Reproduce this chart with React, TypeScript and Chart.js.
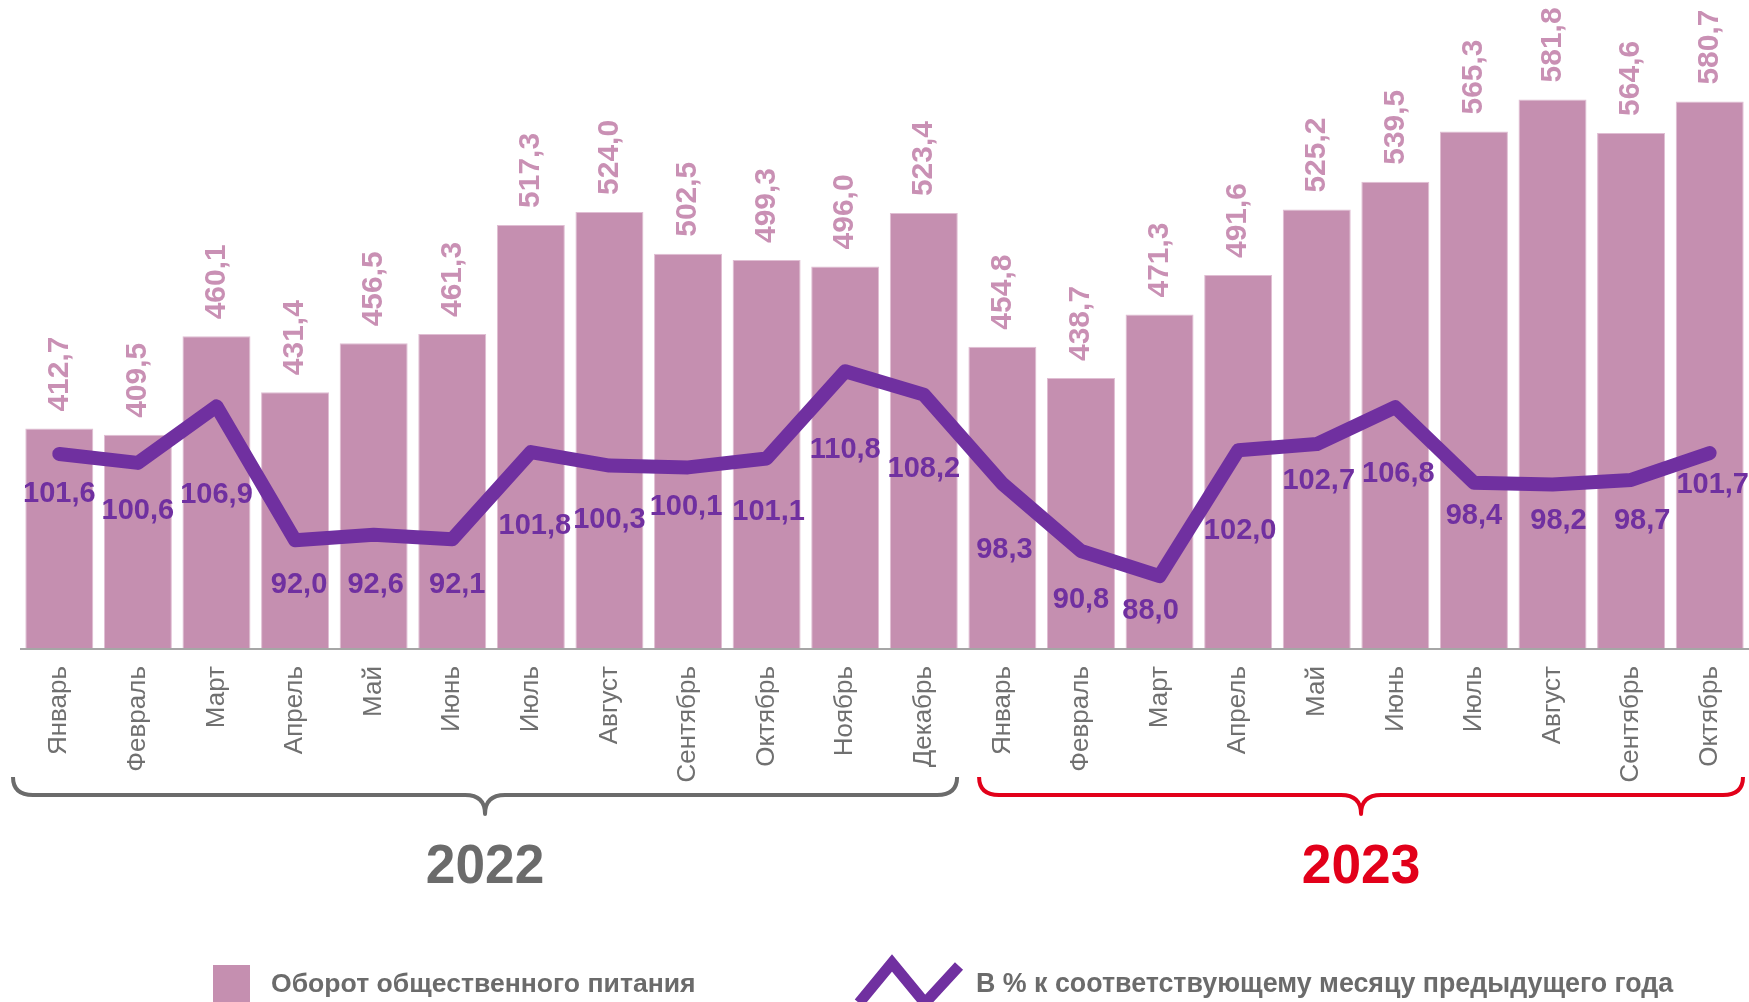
import React, { useEffect, useRef } from "react";
import { Chart, registerables } from "chart.js";

Chart.register(...registerables);

const months = [
  "Январь", "Февраль", "Март", "Апрель", "Май", "Июнь", "Июль", "Август", "Сентябрь", "Октябрь", "Ноябрь", "Декабрь",
  "Январь", "Февраль", "Март", "Апрель", "Май", "Июнь", "Июль", "Август", "Сентябрь", "Октябрь",
];
const turnover = [
  412.7, 409.5, 460.1, 431.4, 456.5, 461.3, 517.3, 524.0, 502.5, 499.3, 496.0, 523.4,
  454.8, 438.7, 471.3, 491.6, 525.2, 539.5, 565.3, 581.8, 564.6, 580.7,
];
const percentPrevYear = [
  101.6, 100.6, 106.9, 92.0, 92.6, 92.1, 101.8, 100.3, 100.1, 101.1, 110.8, 108.2,
  98.3, 90.8, 88.0, 102.0, 102.7, 106.8, 98.4, 98.2, 98.7, 101.7,
];
const years = ["2022", "2023"];
const yearMonthCounts = [12, 10];
const legendLabels = ["Оборот общественного питания", "В % к соответствующему месяцу предыдущего года"];
// vertical drop (px) of each percentage label below its point
const lineLabelDrop = [40, 48, 89, 45, 50, 46, 74, 54, 40, 54, 79, 74, 66, 49, 35, 81, 37, 67, 33, 37, 41, 32];
// small horizontal nudge (px) of each percentage label
const lineLabelShift = [0, 0, 0, 4, 2, 5, 4, 0, -2, 2, 0, 0, 2, 0, -9, 2, 2, 3, 0, 6, 11, 3];

const FONT = '"Liberation Sans", Arial, Helvetica, sans-serif';
const BAR_COLOR = "#c58fb0";
const BAR_LABEL_COLOR = "#c990b4";
const LINE_COLOR = "#7030a0";
const GRAY = "#6b6b6b";
const RED = "#e2001a";
const YEAR_COLORS = [GRAY, RED];
const BRACE_INSETS = [[-7, -6], [16, -6]];

const fmt = (v: number) => v.toFixed(1).replace(".", ",");

const overlay = {
  id: "overlay",
  afterDatasetsDraw(chart: any) {
    const ctx: CanvasRenderingContext2D = chart.ctx;
    const { left, right, bottom } = chart.chartArea;
    const xs = chart.scales.x;
    const catW = (right - left) / months.length;

    ctx.save();
    // axis line
    ctx.strokeStyle = "#a6a6a6";
    ctx.lineWidth = 2;
    ctx.beginPath();
    ctx.moveTo(left, bottom + 1);
    ctx.lineTo(right, bottom + 1);
    ctx.stroke();

    // bar value labels
    const barMeta = chart.getDatasetMeta(0);
    ctx.font = `bold 30px ${FONT}`;
    ctx.fillStyle = BAR_LABEL_COLOR;
    barMeta.data.forEach((el: any, i: number) => {
      ctx.save();
      ctx.translate(el.x, el.y - 17);
      ctx.rotate(-Math.PI / 2);
      ctx.textAlign = "left";
      ctx.textBaseline = "middle";
      ctx.fillText(fmt(turnover[i]), 0, 0);
      ctx.restore();
    });

    // line value labels
    const lineMeta = chart.getDatasetMeta(1);
    ctx.font = `bold 29px ${FONT}`;
    ctx.fillStyle = LINE_COLOR;
    ctx.textAlign = "center";
    ctx.textBaseline = "middle";
    lineMeta.data.forEach((el: any, i: number) => {
      ctx.fillText(fmt(percentPrevYear[i]), el.x + lineLabelShift[i], el.y + lineLabelDrop[i]);
    });

    // month labels
    ctx.font = `26px ${FONT}`;
    ctx.fillStyle = "#707070";
    months.forEach((m, i) => {
      const cx = xs.getPixelForValue(i);
      ctx.save();
      ctx.translate(cx, bottom + 18);
      ctx.rotate(-Math.PI / 2);
      ctx.textAlign = "right";
      ctx.textBaseline = "middle";
      ctx.fillText(m, 0, 0);
      ctx.restore();
    });

    // braces and years
    let start = 0;
    years.forEach((yr, g) => {
      const count = yearMonthCounts[g];
      const x0 = left + start * catW + BRACE_INSETS[g][0];
      const x1 = left + (start + count) * catW + BRACE_INSETS[g][1];
      const cx = (x0 + x1) / 2;
      const yTop = bottom + 129;
      const yLine = bottom + 147;
      const yTip = bottom + 166;
      const r = 20;
      ctx.strokeStyle = YEAR_COLORS[g];
      ctx.lineWidth = 4;
      ctx.lineJoin = "round";
      ctx.lineCap = "butt";
      ctx.beginPath();
      ctx.moveTo(x0, yTop);
      ctx.quadraticCurveTo(x0, yLine, x0 + r, yLine);
      ctx.lineTo(cx - r, yLine);
      ctx.quadraticCurveTo(cx, yLine, cx, yTip);
      ctx.quadraticCurveTo(cx, yLine, cx + r, yLine);
      ctx.lineTo(x1 - r, yLine);
      ctx.quadraticCurveTo(x1, yLine, x1, yTop);
      ctx.stroke();

      ctx.save();
      ctx.translate(cx, bottom + 220);
      ctx.scale(0.95, 1);
      ctx.font = `bold 56px ${FONT}`;
      ctx.fillStyle = YEAR_COLORS[g];
      ctx.textAlign = "center";
      ctx.textBaseline = "middle";
      ctx.fillText(yr, 0, 0);
      ctx.restore();
      start += count;
    });

    // legend
    const ly = bottom + 337;
    ctx.fillStyle = BAR_COLOR;
    ctx.fillRect(213, ly - 20, 37, 40);
    ctx.font = `bold 26.6px ${FONT}`;
    ctx.fillStyle = GRAY;
    ctx.textAlign = "left";
    ctx.textBaseline = "middle";
    ctx.fillText(legendLabels[0], 271, ly);

    ctx.strokeStyle = LINE_COLOR;
    ctx.lineWidth = 11;
    ctx.lineJoin = "miter";
    ctx.beginPath();
    ctx.moveTo(859, ly + 18);
    ctx.lineTo(892, ly - 22);
    ctx.lineTo(925, ly + 18);
    ctx.lineTo(959, ly - 19);
    ctx.stroke();
    ctx.fillStyle = GRAY;
    ctx.font = `bold 26.8px ${FONT}`;
    ctx.fillText(legendLabels[1], 976, ly);

    ctx.restore();
  },
};

export default function App() {
  const ref = useRef<HTMLCanvasElement | null>(null);
  useEffect(() => {
    if (!ref.current) return;
    const chart = new Chart(ref.current, {
      type: "bar",
      data: {
        labels: months,
        datasets: [
          {
            type: "bar",
            label: legendLabels[0],
            data: turnover,
            backgroundColor: BAR_COLOR,
            borderColor: "#e0bed3",
            borderWidth: 1,
            barPercentage: 0.865,
            categoryPercentage: 1,
            yAxisID: "y",
            order: 1,
          },
          {
            type: "line",
            label: legendLabels[1],
            data: percentPrevYear,
            borderColor: LINE_COLOR,
            backgroundColor: LINE_COLOR,
            borderWidth: 14,
            pointRadius: 0,
            tension: 0,
            borderJoinStyle: "round",
            borderCapStyle: "round",
            yAxisID: "y1",
            order: 0,
            clip: 20,
          },
        ],
      },
      options: {
        responsive: false,
        animation: false,
        devicePixelRatio: 1,
        layout: { padding: { left: 20, right: 0, top: 64, bottom: 354 } },
        plugins: { legend: { display: false }, tooltip: { enabled: false } },
        scales: {
          x: { display: false, offset: true, grid: { display: false } },
          y: { display: false, min: 300, max: 600 },
          y1: { display: false, min: 80, max: 145, position: "right" },
        },
      },
      plugins: [overlay],
    } as any);
    return () => chart.destroy();
  }, []);
  return (
    <div style={{ position: "fixed", left: 0, top: 0, width: 1749, height: 1002, background: "#fff" }}>
      <canvas ref={ref} width={1749} height={1002} style={{ width: 1749, height: 1002, display: "block" }} />
    </div>
  );
}
